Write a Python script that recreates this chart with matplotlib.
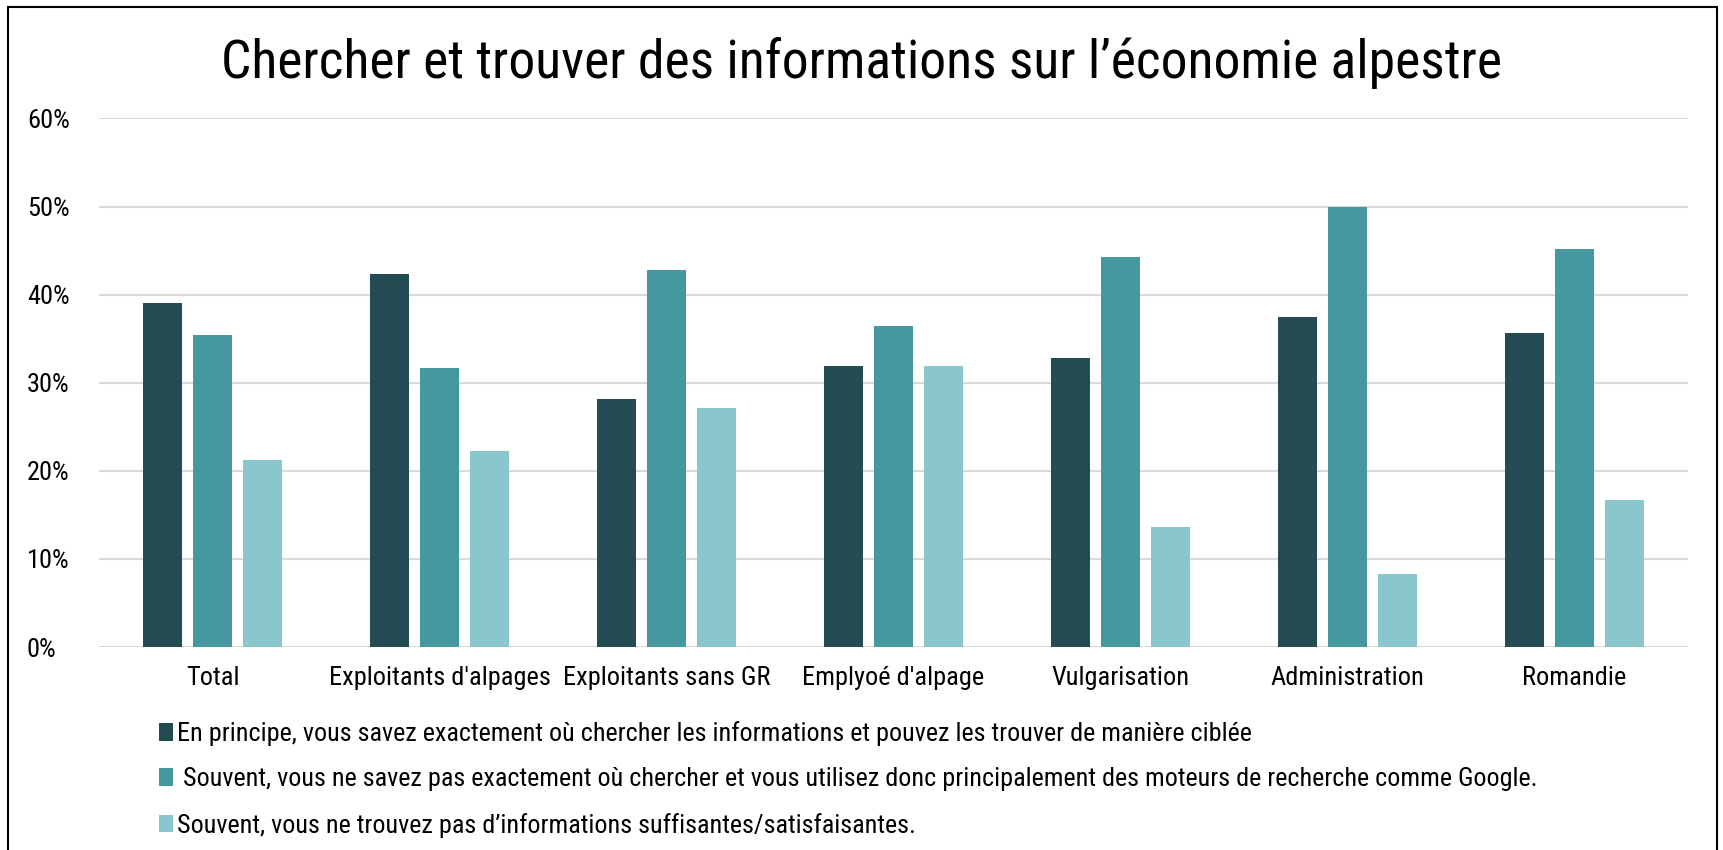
import matplotlib
matplotlib.use('Agg')
import matplotlib.pyplot as plt
from matplotlib.patches import Rectangle
from matplotlib.ticker import PercentFormatter
import numpy as np

categories = ["Total", "Exploitants d'alpages", "Exploitants sans GR", "Emplyoé d'alpage",
              "Vulgarisation", "Administration", "Romandie"]
savent = [39.0, 42.3, 28.2, 31.9, 32.8, 37.5, 35.7]
google = [35.4, 31.7, 42.8, 36.4, 44.3, 50.0, 45.2]
pas_infos = [21.2, 22.3, 27.1, 31.9, 13.6, 8.3, 16.7]

labels = ["En principe, vous savez exactement où chercher les informations et pouvez les trouver de manière ciblée",
          " Souvent, vous ne savez pas exactement où chercher et vous utilisez donc principalement des moteurs de recherche comme Google.",
          "Souvent, vous ne trouvez pas d’informations suffisantes/satisfaisantes."]
colors = ['#234D52', '#4698A0', '#8CC6CD']

plt.rcParams['font.family'] = ['Roboto Condensed', 'DejaVu Sans']

fig = plt.figure(figsize=(17.23, 8.5), dpi=100)
ax = fig.add_axes([99 / 1723, 0.2388, 1589 / 1723, 0.6218])

x = np.arange(len(categories))
w = 0.173
off = 0.22
series = [savent, google, pas_infos]
bars = []
for i, (vals, c) in enumerate(zip(series, colors)):
    b = ax.bar(x + (i - 1) * off, np.array(vals) / 100, w, color=c, zorder=3)
    bars.append(b)

ax.set_xlim(-0.5, len(categories) - 0.5)
ax.set_ylim(0, 0.6)
ax.set_yticks(np.arange(0, 0.61, 0.1))
ax.yaxis.set_major_formatter(PercentFormatter(1.0, decimals=0))
ax.grid(axis='y', color='#D9D9D9', linewidth=1.5, zorder=0)
for s in ax.spines.values():
    s.set_visible(False)
ax.tick_params(axis='both', length=0, labelsize=19, labelcolor='black')
ax.tick_params(axis='y', pad=52)
for t in ax.get_yticklabels():
    t.set_horizontalalignment('left')
ax.set_xticks(x)
ax.set_xticklabels(categories)
ax.tick_params(axis='x', pad=14)

fig.text(0.5, 0.926, "Chercher et trouver des informations sur l’économie alpestre",
         ha='center', va='center', fontsize=38.6)

leg = fig.legend(bars, labels, loc='upper left', bbox_to_anchor=(0.086, 0.164),
                 frameon=False, fontsize=18.8, handlelength=0.55, handleheight=0.65,
                 handletextpad=0.15, labelspacing=0.82, borderaxespad=0)

fig.add_artist(Rectangle((8 / 1723, -0.01), 1709 / 1723, 1 - 7 / 850 + 0.01,
                         transform=fig.transFigure, fill=False, edgecolor='black', linewidth=1.5))

fig.savefig('out.png', dpi=100)
